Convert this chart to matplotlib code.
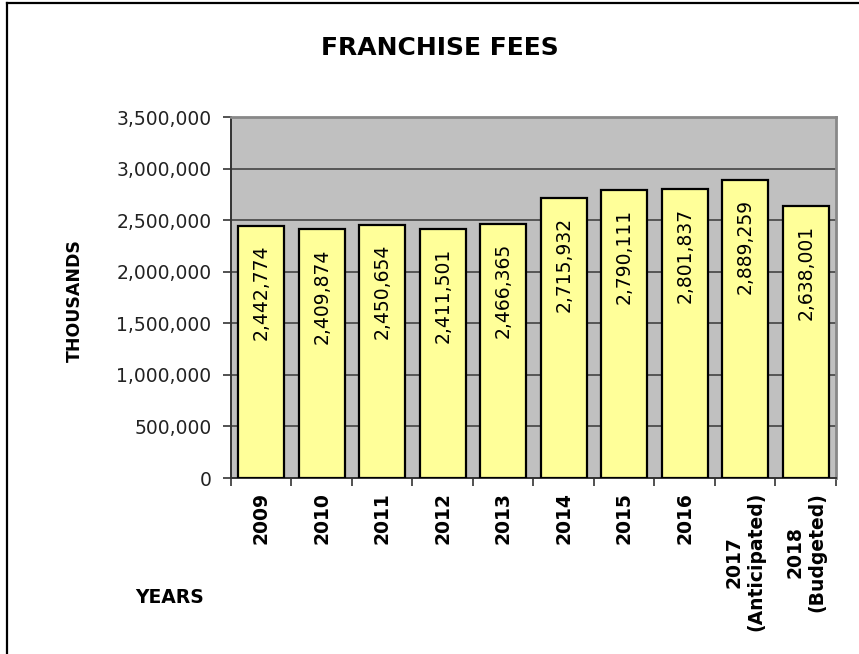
import matplotlib
matplotlib.use("Agg")
from matplotlib import pyplot as plt
from matplotlib.lines import Line2D
from matplotlib.ticker import FuncFormatter
import numpy as np

# data
years = ["2009", "2010", "2011", "2012", "2013", "2014", "2015", "2016",
         "2017\n(Anticipated)", "2018\n(Budgeted)"]
fees = [2442774, 2409874, 2450654, 2411501, 2466365, 2715932,
        2790111, 2801837, 2889259, 2638001]
y_ticks = [0, 500000, 1000000, 1500000, 2000000, 2500000, 3000000, 3500000]

plt.rcParams['font.family'] = ['DejaVu Sans']

fig = plt.figure(figsize=(8.59, 6.54), dpi=100)
ax = fig.add_axes([0.2689, 0.2691, 0.7043, 0.5520])

x = np.arange(len(years))
ax.set_facecolor('#C0C0C0')
ax.set_axisbelow(True)
ax.yaxis.grid(True, color='#4d4d4d', linewidth=1.3)
bars = ax.bar(x, fees, width=0.76, color='#FFFF99', edgecolor='black',
              linewidth=1.6, zorder=3)

# value labels, just inside the top of each bar
for xi, v in zip(x, fees):
    ax.annotate(f"{v:,}", (xi, v), xytext=(0, -13.5), textcoords='offset points',
                rotation=90, ha='center', va='top', fontsize=13.5,
                color='black', zorder=4)

ax.set_xlim(-0.5, len(years) - 0.5)
ax.set_ylim(0, 3500000)
ax.set_yticks(y_ticks)
ax.yaxis.set_major_formatter(FuncFormatter(lambda v, p: f"{int(v):,}"))
ax.tick_params(axis='y', labelsize=13.5, labelcolor='#222222', length=6,
               width=1.2, color='#333333', direction='out', pad=8)

# x ticks at category boundaries, labels centred under bars
ax.set_xticks(np.arange(-0.5, len(years), 1.0))
ax.set_xticklabels([])
ax.set_xticks(x, minor=True)
ax.set_xticklabels(years, minor=True, rotation=90, fontsize=13.5,
                   fontweight='bold', multialignment='center', va='top')
ax.tick_params(axis='x', which='major', length=6, width=1.2, color='#333333')
ax.tick_params(axis='x', which='minor', length=0, pad=10)

for side in ['top', 'right']:
    ax.spines[side].set_color('#888888')
    ax.spines[side].set_linewidth(2)
for side in ['left', 'bottom']:
    ax.spines[side].set_color('#333333')
    ax.spines[side].set_linewidth(1.4)

fig.text(0.512, 0.926, "FRANCHISE FEES", ha='center', va='center',
         fontsize=18, fontweight='bold')
fig.text(0.087, 0.541, "THOUSANDS", ha='center', va='center', rotation=90,
         fontsize=12.5, fontweight='bold')
fig.text(0.197, 0.087, "YEARS", ha='center', va='center',
         fontsize=13.5, fontweight='bold')

# outer frame of the chart (only top and left edges are visible)
fig.add_artist(Line2D([0.0081, 1.0], [0.9947, 0.9947], color='black', linewidth=1.6))
fig.add_artist(Line2D([0.0081, 0.0081], [0.0, 0.9947], color='black', linewidth=1.6))

fig.savefig("out.png", dpi=100)
